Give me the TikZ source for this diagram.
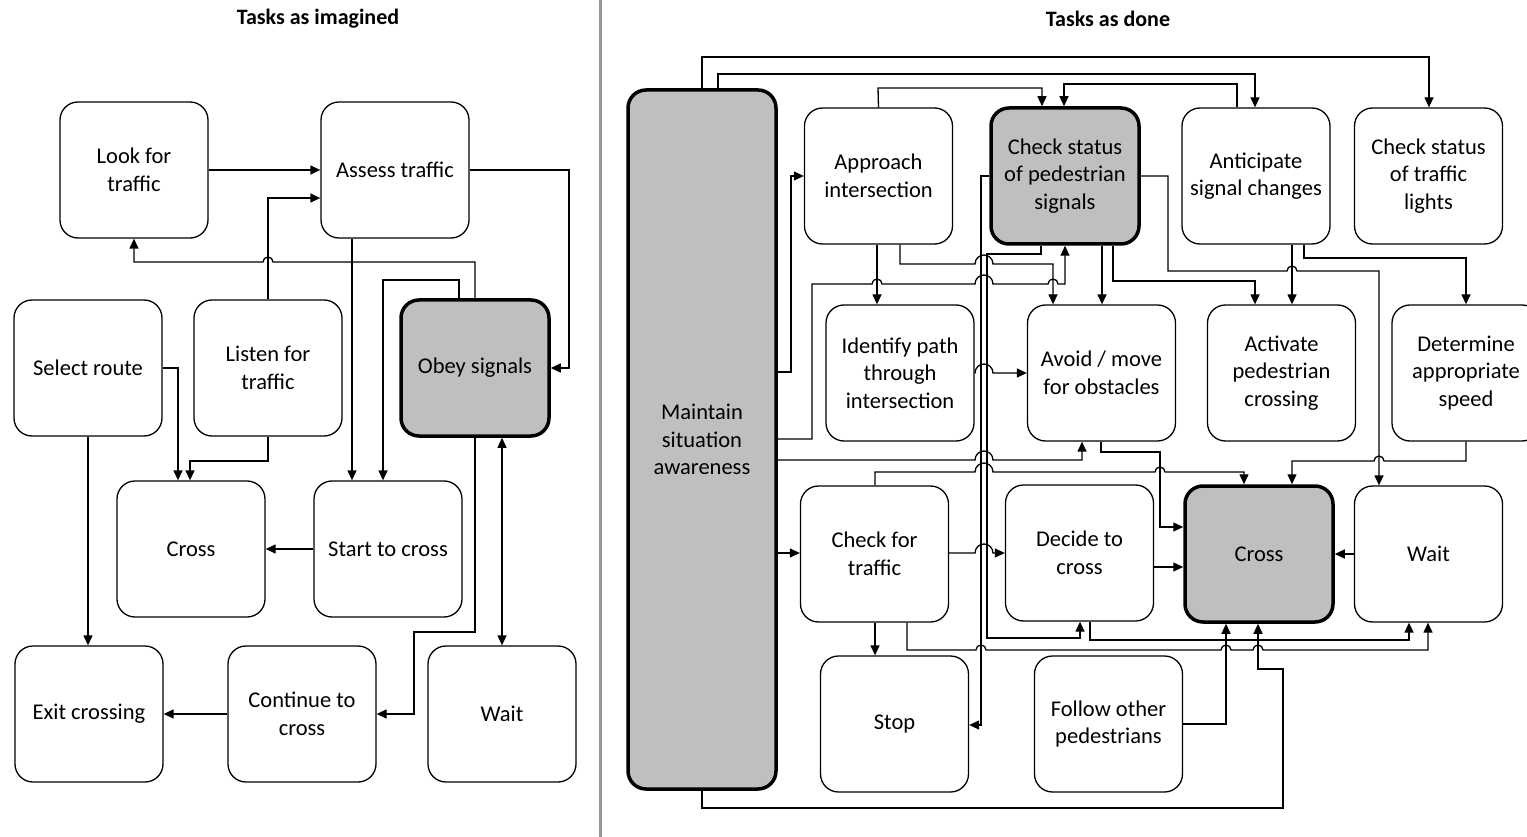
\documentclass[tikz,border=0pt]{standalone}
\usepackage{fontspec}
\setmainfont{Carlito}
\usetikzlibrary{arrows.meta}
\definecolor{keygray}{RGB}{191,191,191}
\definecolor{sepgray}{RGB}{150,150,150}
\begin{document}
\begin{tikzpicture}[x=1pt,y=-1pt,
  box/.style={draw=black, line width=1.3pt, rounded corners=18pt, fill=white,
    minimum width=148pt, minimum height=136pt, align=center, inner sep=0pt,
    font=\fontsize{22.5}{27.5}\selectfont},
  keybox/.style={box, fill=keygray, line width=3.5pt},
  conn/.style={line width=1.3pt, -{Triangle[length=10pt,width=9pt]}},
  both/.style={line width=1.3pt, {Triangle[length=10pt,width=9pt]}-{Triangle[length=10pt,width=9pt]}},
  heading/.style={font=\fontsize{22}{26}\selectfont\bfseries}]
\useasboundingbox (0,0) rectangle (1527,837);
\clip (0,0) rectangle (1527,837);
\fill[white] (0,0) rectangle (1527,837);

% panel divider
\draw[sepgray, line width=3pt] (600,0) -- (600,837);

% headings
\node[heading] (h1) at (318,19) {Tasks as imagined};
\node[heading] (h2) at (1108,19) {Tasks as done};

% ---------- left panel ----------
\node[box] (look)   at (134,170) {Look for\\traffic};
\node[box] (assess) at (395,170) {Assess traffic};
\node[box] (select) at (88,368)  {Select route};
\node[box] (listen) at (268,368) {Listen for\\traffic};
\node[keybox] (obey) at (475,368) {Obey signals};
\node[box] (crossL) at (191,549) {Cross};
\node[box] (start)  at (388,549) {Start to cross};
\node[box] (exit)   at (89,714)  {Exit crossing};
\node[box] (cont)   at (302,714) {Continue to\\cross};
\node[box] (waitL)  at (502,714) {Wait};

\draw[conn] (look.east) -- (assess.west);
\draw[conn] (listen.north) -- (268,198) -- (assess.west |- 0,198);
\draw[conn] (obey.north) -- (475,262) -- (273,262)
  arc[start angle=0,end angle=-180,radius=5] -- (134,262) -- (look.south);
\draw[conn] (assess.east) -- (569,170) -- (569,368) -- (obey.east);
\draw[conn] (assess.south -| 352,0) -- (start.north -| 352,0);
\draw[conn] (obey.north -| 459,0) -- (459,280) -- (383,280) -- (start.north -| 383,0);
\draw[conn] (select.east) -- (178,368) -- (crossL.north -| 178,0);
\draw[conn] (listen.south) -- (268,461) -- (190,461) -- (crossL.north -| 190,0);
\draw[conn] (select.south) -- (exit.north -| 88,0);
\draw[conn] (start.west) -- (crossL.east);
\draw[conn] (obey.south) -- (475,632) -- (414,632) -- (414,714) -- (cont.east);
\draw[both] (obey.south -| 502,0) -- (waitL.north);
\draw[conn] (cont.west) -- (exit.east);

% ---------- right panel ----------
\node[keybox, minimum height=699pt] (maint) at (702,439.5) {Maintain\\situation\\awareness};
\node[box] (approach) at (878.5,176) {Approach\\intersection};
\node[keybox] (chkped) at (1065,176) {Check status\\of pedestrian\\signals};
\node[box] (antic)  at (1256,176) {Anticipate\\signal changes};
\node[box] (chktl)  at (1428.5,176) {Check status\\of traffic\\lights};
\node[box] (ident)  at (900,373) {Identify path\\through\\intersection};
\node[box] (avoid)  at (1101.5,373) {Avoid / move\\for obstacles};
\node[box] (activ)  at (1281.5,373) {Activate\\pedestrian\\crossing};
\node[box] (determ) at (1466,373) {Determine\\appropriate\\speed};
\node[box] (cfort)  at (874.5,554) {Check for\\traffic};
\node[box] (decide) at (1079.5,553) {Decide to\\cross};
\node[keybox] (crossR) at (1259,554) {Cross};
\node[box] (waitR)  at (1428.5,554) {Wait};
\node[box] (stop)   at (894.5,724) {Stop};
\node[box] (follow) at (1108.5,724) {Follow other\\pedestrians};

% links leaving the top of the awareness column
\draw[conn] (maint.north) -- (702,57) -- (1429,57) -- (chktl.north -| 1429,0);
\draw[conn] (maint.north -| 718,0) -- (718,74) -- (1255,74) -- (antic.north -| 1255,0);
\draw[conn] (antic.north -| 1237,0) -- (1237,84) -- (1064,84) -- (chkped.north -| 1064,0);
\draw[conn] (approach.north) -- (878,88) -- (1042,88) -- (chkped.north -| 1042,0);

% awareness column to the right
\draw[conn] (maint.east |- 0,372) -- (791,372) -- (791,176) -- (approach.west);
\draw[conn] (maint.east |- 0,439) -- (812,439) -- (812,284)
  -- (872,284) arc[start angle=180,end angle=360,radius=5]
  -- (975,284) arc[start angle=180,end angle=360,radius=9]
  -- (1048,284) arc[start angle=180,end angle=360,radius=5]
  -- (1065,284) -- (chkped.south);
\draw[conn] (maint.east |- 0,460)
  -- (975,460) arc[start angle=180,end angle=360,radius=9]
  -- (1082,460) -- (avoid.south -| 1082,0);
\draw[conn] (maint.east |- 0,553) -- (cfort.west |- 0,553);
\draw[conn] (maint.south) -- (702,808) -- (1283,808) -- (1283,669) -- (1258,669) -- (crossR.south -| 1258,0);

% approach intersection
\draw[conn] (approach.south -| 877,0) -- (ident.north -| 877,0);
\draw[conn] (approach.south -| 900,0) -- (900,264)
  -- (975,264) arc[start angle=180,end angle=360,radius=9]
  -- (1053,264) -- (avoid.north -| 1053,0);

% pedestrian signals
\draw[conn] (chkped.south -| 1102,0) -- (avoid.north -| 1102,0);
\draw[conn] (chkped.south -| 1113,0) -- (1113,281) -- (1255,281) -- (activ.north -| 1255,0);
\draw[conn] (chkped.south -| 1041,0) -- (1041,254) -- (987,254) -- (987,638) -- (1080,638) -- (decide.south -| 1080,0);
\draw[conn] (chkped.west) -- (981,176) -- (981,725) -- (stop.east |- 0,725);
\draw[conn] (chkped.east) -- (1168,176) -- (1168,271)
  -- (1287,271) arc[start angle=180,end angle=360,radius=5]
  -- (1379,271) -- (waitR.north -| 1379,0);

% anticipating signal changes
\draw[conn] (antic.south -| 1292,0) -- (activ.north -| 1292,0);
\draw[conn] (antic.south -| 1304,0) -- (1304,258) -- (1466,258) -- (determ.north);

% middle row
\draw[conn] (ident.east)
  -- (975,373) arc[start angle=180,end angle=360,radius=9]
  -- (avoid.west);
\draw[conn] (determ.south) -- (1466,461)
  -- (1384,461) arc[start angle=0,end angle=-180,radius=5]
  -- (1292,461) -- (crossR.north -| 1292,0);
\draw[conn] (avoid.south -| 1101,0) -- (1101,452) -- (1160,452) -- (1160,527) -- (crossR.west |- 0,527);

% bottom rows
\draw[conn] (cfort.north -| 875,0) -- (875,472)
  -- (975,472) arc[start angle=180,end angle=360,radius=9]
  -- (1155,472) arc[start angle=180,end angle=360,radius=5]
  -- (1244,472) -- (crossR.north -| 1244,0);
\draw[conn] (cfort.east |- 0,553)
  -- (975,553) arc[start angle=180,end angle=360,radius=9]
  -- (decide.west |- 0,553);
\draw[conn] (decide.east |- 0,567) -- (crossR.west |- 0,567);
\draw[conn] (waitR.west) -- (crossR.east);
\draw[conn] (cfort.south -| 875,0) -- (stop.north -| 875,0);
\draw[conn] (decide.south -| 1090,0) -- (1090,640) -- (1409,640) -- (waitR.south -| 1409,0);
\draw[conn] (follow.east) -- (1226,724) -- (crossR.south -| 1226,0);
\draw[conn] (cfort.south -| 907,0) -- (907,650)
  -- (976,650) arc[start angle=180,end angle=360,radius=5]
  -- (1221,650) arc[start angle=180,end angle=360,radius=5]
  -- (1253,650) arc[start angle=180,end angle=360,radius=5]
  -- (1428,650) -- (waitR.south -| 1428,0);
\end{tikzpicture}
\end{document}
